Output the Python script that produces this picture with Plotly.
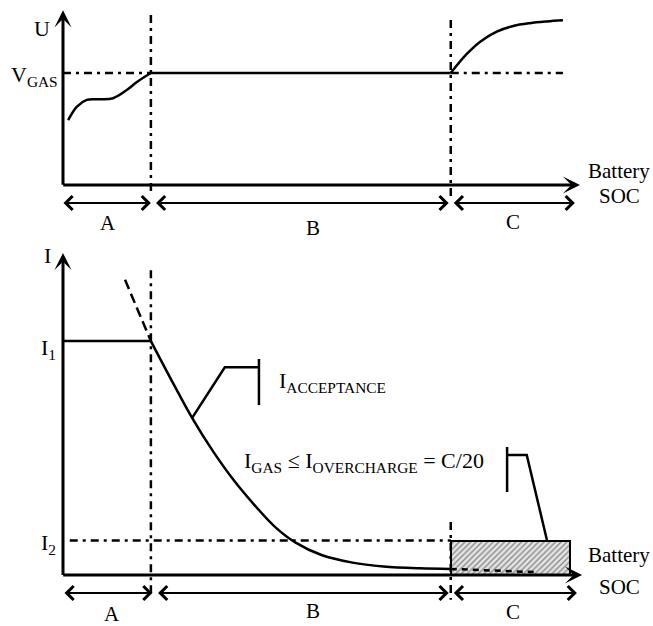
import plotly.graph_objects as go

# ---------------------------------------------------------------
# Three-stage charging profile (schematic)
#   SOC in %, U normalised to the gassing voltage, I in C-rate
# ---------------------------------------------------------------
soc_ab = 17          # stage A -> stage B
soc_bc = 75          # stage B -> stage C
v_gas = 1.0
i_1 = 0.34
i_2 = 0.05           # C/20

# terminal voltage
u_soc_a = [1, 2.7, 4.6, 7.2, 9.7, 12.4, 14.3, 17]
u_val_a = [0.58, 0.70, 0.76, 0.765, 0.775, 0.85, 0.92, 1.0]
u_soc_c = [75, 78.1, 80.7, 83.9, 87.1, 90.3, 93.6, 96.7]
u_val_c = [1.0, 1.17, 1.28, 1.37, 1.42, 1.445, 1.46, 1.47]

# charging current
i_soc_b = [17, 21, 25, 29, 33, 37, 41, 45, 50, 56, 62, 69, 75]
i_val_b = [0.34, 0.283, 0.228, 0.180, 0.138, 0.102, 0.070, 0.047, 0.029, 0.018, 0.0125, 0.0098, 0.0088]
i_soc_ext = [12, 17]
i_val_ext = [0.429, 0.34]
i_soc_tail = [75, 92]
i_val_tail = [0.0088, 0.004]
over_soc = [75, 98]

stage_labels = ["A", "B", "C"]

# ---- page geometry (pixels) used to set the axis ranges ----
W, H = 653, 626
X0, PX_SOC = 63, 5.17          # SOC = 0 at x0, pixels per % SOC
U0, PX_U = 185, 112            # U = 0 baseline, pixels per unit
I0, PX_I = 575, 688            # I = 0 baseline, pixels per C

x_range = [(0 - X0) / PX_SOC, (W - X0) / PX_SOC]
u_range = [(U0 - H) / PX_U, U0 / PX_U]
i_range = [(I0 - H) / PX_I, I0 / PX_I]

INK = "black"
DASHDOT = "8px,5px,3px,5px"
SERIF = "Liberation Serif, Times New Roman, serif"

fig = go.Figure()


def line(x, y, ax="y", dash="solid", width=2.5, shape="linear"):
    fig.add_trace(go.Scatter(
        x=x, y=y, yaxis=ax, mode="lines", hoverinfo="skip", showlegend=False,
        line=dict(color=INK, width=width, dash=dash, shape=shape, smoothing=1.0),
    ))


# hatched overcharge region
fig.add_trace(go.Bar(
    x=[(over_soc[0] + over_soc[1]) / 2], y=[i_2], base=0,
    width=[over_soc[1] - over_soc[0]], yaxis="y2", showlegend=False, hoverinfo="skip",
    marker=dict(
        color="#dcdcdc",
        line=dict(color=INK, width=2),
        pattern=dict(shape="/", fgcolor="#8a8a8a", bgcolor="#e4e4e4", size=4,
                     solidity=0.35, fillmode="replace"),
    ),
))

# ---------------- voltage panel ----------------
line(u_soc_a, u_val_a, shape="spline")
line([soc_ab, soc_bc], [v_gas, v_gas])
line(u_soc_c, u_val_c, shape="spline")
line([0, soc_ab], [v_gas, v_gas], dash=DASHDOT)
line([soc_bc, u_soc_c[-1]], [v_gas, v_gas], dash=DASHDOT)
line([soc_ab, soc_ab], [1.518, -0.09], dash=DASHDOT)
line([soc_bc, soc_bc], [1.473, -0.134], dash=DASHDOT)

# ---------------- current panel ----------------
line([0, soc_ab], [i_1, i_1], ax="y2")
line(i_soc_b, i_val_b, ax="y2", shape="spline")
line(i_soc_ext, i_val_ext, ax="y2", dash="10px,5px")
line(i_soc_tail, i_val_tail, ax="y2", dash="6px,5px")
line([1.3, soc_bc], [i_2, i_2], ax="y2", dash=DASHDOT)
line([soc_ab, soc_ab], [0.443, -0.032], ax="y2", dash=DASHDOT)
line([soc_bc, soc_bc], [0.077, -0.036], ax="y2", dash=DASHDOT)

# callout brackets
line([24.95, 31.3, 37.9], [0.228, 0.302, 0.302], ax="y2")
line([37.9, 37.9], [0.314, 0.247], ax="y2")
line([93.6, 89.7, 85.9], [0.0509, 0.1744, 0.1744], ax="y2")
line([85.9, 85.9], [0.186, 0.1206], ax="y2")

annotations = []


def arrow(x, y, ax, ay, yref="y", head=3, width=3, size=1.0, both=False):
    a = dict(x=x, y=y, ax=ax, ay=ay, xref="x", yref=yref, axref="x", ayref=yref,
             text="", showarrow=True, arrowhead=head, arrowwidth=width,
             arrowsize=size, arrowcolor=INK, standoff=0, startstandoff=0)
    if both:
        a.update(arrowside="end+start", startarrowhead=head, startarrowsize=size)
    annotations.append(a)


# axes with arrow heads
arrow(0, 1.56, 0, -0.012, head=3, width=3, size=0.95)
arrow(100, 0, -0.25, 0, head=3, width=3, size=0.95)
arrow(0, 0.468, 0, -0.002, yref="y2", head=3, width=3, size=0.95)
arrow(100.4, 0, -0.25, 0, yref="y2", head=3, width=3, size=0.95)

# stage span arrows
u_row = (U0 - 203) / PX_U
i_row = (I0 - 593) / PX_I
for (s0, s1) in [(-0.2, 17.0), (17.7, 74.6), (75.3, 99.0)]:
    arrow(s1, u_row, s0, u_row, head=4, width=2, size=1.35, both=True)
for (s0, s1) in [(0.0, 17.3), (18.1, 74.6), (75.3, 99.4)]:
    arrow(s1, i_row, s0, i_row, yref="y2", head=4, width=2, size=1.35, both=True)


def label(text, x, y, yref="y", size=21, xanchor="center"):
    annotations.append(dict(text=text, x=x, y=y, xref="x", yref=yref, showarrow=False,
                            xanchor=xanchor, yanchor="middle",
                            font=dict(family=SERIF, size=size, color=INK)))


# voltage panel labels
label("U", -4.06, 1.393, size=22)
label("V<sub>GAS</sub>", -0.5, 0.975, size=22, xanchor="right")
label("Battery", 107.6, 0.125)
label("SOC", 107.6, -0.098)
for name, s, v in zip(stage_labels, [8.7, 48.4, 87.0], [-0.339, -0.384, -0.330]):
    label(name, s, v)

# current panel labels
label("I", -3.09, 0.465, yref="y2", size=22)
label("I<sub>1</sub>", -0.9, 0.329, yref="y2", size=22, xanchor="right")
label("I<sub>2</sub>", -0.9, 0.045, yref="y2", size=22, xanchor="right")
label("Battery", 107.6, 0.029, yref="y2")
label("SOC", 107.6, -0.0174, yref="y2")
for name, s, v in zip(stage_labels, [9.5, 48.4, 87.0], [-0.0567, -0.0530, -0.0538]):
    label(name, s, v, yref="y2")
label("I<sub>ACCEPTANCE</sub>", 41.3, 0.281, yref="y2", size=22, xanchor="left")
label("I<sub>GAS</sub> ≤ I<sub>OVERCHARGE</sub> = C/20", 34.7, 0.164, yref="y2",
      size=22, xanchor="left")

fig.update_layout(
    width=W, height=H,
    margin=dict(l=0, r=0, t=0, b=0),
    paper_bgcolor="white", plot_bgcolor="white",
    showlegend=False,
    xaxis=dict(range=x_range, visible=False, domain=[0, 1]),
    yaxis=dict(range=u_range, visible=False, domain=[0, 1]),
    yaxis2=dict(range=i_range, visible=False, domain=[0, 1], overlaying="y"),
    annotations=annotations,
    bargap=0,
)

fig.write_html("out.html")
